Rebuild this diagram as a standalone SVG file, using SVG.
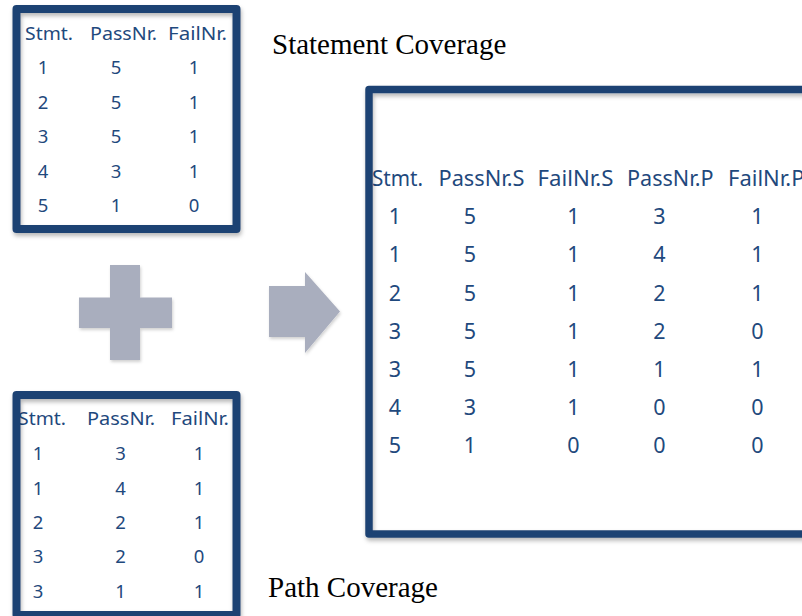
<svg xmlns="http://www.w3.org/2000/svg" width="802" height="616" viewBox="0 0 802 616">
  <defs>
    <filter id="shadow" x="-10%" y="-10%" width="125%" height="125%">
      <feDropShadow dx="1" dy="3" stdDeviation="2" flood-color="#000" flood-opacity="0.28"/>
    </filter>
    <filter id="softshadow" x="-20%" y="-20%" width="150%" height="150%">
      <feDropShadow dx="1" dy="2" stdDeviation="1.5" flood-color="#000" flood-opacity="0.18"/>
    </filter>
  </defs>
  <style>
    .frame { fill: none; stroke: #1F4373; stroke-width: 8; stroke-linejoin: round; filter: url(#shadow); }
    .bg { fill: #ffffff; }
    .t { font-family: "Noto Sans", "Open Sans", sans-serif; fill: #1F497D; }
    .s { font-size: 18.5px; }
    .b { font-size: 21.5px; }
    .c { text-anchor: middle; }
    .lbl { font-family: "Liberation Serif", "Times New Roman", serif; font-size: 29px; fill: #000000; }
    .grey { fill: #A9AEBE; filter: url(#softshadow); }
  </style>
  <rect width="802" height="616" fill="#ffffff"/>

  <g id="box-statement">
    <rect class="bg" x="16.5" y="9" width="220" height="220"/>
    <g class="t s">
      <text x="25" y="40" textLength="48" lengthAdjust="spacingAndGlyphs">Stmt.</text>
      <text x="90" y="40" textLength="67" lengthAdjust="spacingAndGlyphs">PassNr.</text>
      <text x="168" y="40" textLength="59" lengthAdjust="spacingAndGlyphs">FailNr.</text>
    </g>
    <g class="t s c">
      <text x="43" y="74">1</text><text x="116" y="74">5</text><text x="194" y="74">1</text>
      <text x="43" y="108.5">2</text><text x="116" y="108.5">5</text><text x="194" y="108.5">1</text>
      <text x="43" y="143">3</text><text x="116" y="143">5</text><text x="194" y="143">1</text>
      <text x="43" y="177.5">4</text><text x="116" y="177.5">3</text><text x="194" y="177.5">1</text>
      <text x="43" y="212">5</text><text x="116" y="212">1</text><text x="194" y="212">0</text>
    </g>
    <rect class="frame" x="16.5" y="9" width="220" height="220"/>
  </g>

  <g id="box-path">
    <rect class="bg" x="16.5" y="395" width="220" height="220"/>
    <g class="t s">
      <text x="18" y="425" textLength="48" lengthAdjust="spacingAndGlyphs">Stmt.</text>
      <text x="87" y="425" textLength="68" lengthAdjust="spacingAndGlyphs">PassNr.</text>
      <text x="171" y="425" textLength="58" lengthAdjust="spacingAndGlyphs">FailNr.</text>
    </g>
    <g class="t s c">
      <text x="38" y="460">1</text><text x="120.5" y="460">3</text><text x="199" y="460">1</text>
      <text x="38" y="494.5">1</text><text x="120.5" y="494.5">4</text><text x="199" y="494.5">1</text>
      <text x="38" y="529">2</text><text x="120.5" y="529">2</text><text x="199" y="529">1</text>
      <text x="38" y="563">3</text><text x="120.5" y="563">2</text><text x="199" y="563">0</text>
      <text x="38" y="598">3</text><text x="120.5" y="598">1</text><text x="199" y="598">1</text>
    </g>
    <rect class="frame" x="16.5" y="395" width="220" height="220"/>
  </g>

  <g id="plus-sign">
    <path class="grey" d="M110,265 H140 V297.5 H172 V328 H140 V360 H110 V328 H79 V297.5 H110 Z"/>
  </g>

  <g id="connectors">
    <polygon class="grey" points="269,286 305,286 305,272 340,311.5 305,353 305,337 269,337"/>
  </g>

  <g id="box-merged">
    <rect class="bg" x="369" y="89.5" width="460" height="444.5"/>
    <g class="t b">
      <text x="372" y="186" textLength="51" lengthAdjust="spacingAndGlyphs">Stmt.</text>
      <text x="438.5" y="186" textLength="86" lengthAdjust="spacingAndGlyphs">PassNr.S</text>
      <text x="537.5" y="186" textLength="76" lengthAdjust="spacingAndGlyphs">FailNr.S</text>
      <text x="627" y="186" textLength="86.5" lengthAdjust="spacingAndGlyphs">PassNr.P</text>
      <text x="728" y="186" textLength="76.5" lengthAdjust="spacingAndGlyphs">FailNr.P</text>
    </g>
    <g class="t b c">
      <text x="395" y="224">1</text><text x="470" y="224">5</text><text x="573.5" y="224">1</text><text x="659.5" y="224">3</text><text x="757.5" y="224">1</text>
      <text x="395" y="262">1</text><text x="470" y="262">5</text><text x="573.5" y="262">1</text><text x="659.5" y="262">4</text><text x="757.5" y="262">1</text>
      <text x="395" y="300.5">2</text><text x="470" y="300.5">5</text><text x="573.5" y="300.5">1</text><text x="659.5" y="300.5">2</text><text x="757.5" y="300.5">1</text>
      <text x="395" y="338.5">3</text><text x="470" y="338.5">5</text><text x="573.5" y="338.5">1</text><text x="659.5" y="338.5">2</text><text x="757.5" y="338.5">0</text>
      <text x="395" y="376.5">3</text><text x="470" y="376.5">5</text><text x="573.5" y="376.5">1</text><text x="659.5" y="376.5">1</text><text x="757.5" y="376.5">1</text>
      <text x="395" y="415">4</text><text x="470" y="415">3</text><text x="573.5" y="415">1</text><text x="659.5" y="415">0</text><text x="757.5" y="415">0</text>
      <text x="395" y="453">5</text><text x="470" y="453">1</text><text x="573.5" y="453">0</text><text x="659.5" y="453">0</text><text x="757.5" y="453">0</text>
    </g>
    <rect class="frame" x="369" y="89.5" width="460" height="444.5" style="stroke-width:7.5"/>
  </g>

  <g id="labels">
    <text class="lbl" x="272" y="53.5">Statement Coverage</text>
    <text class="lbl" x="268" y="596.5">Path Coverage</text>
  </g>
</svg>
